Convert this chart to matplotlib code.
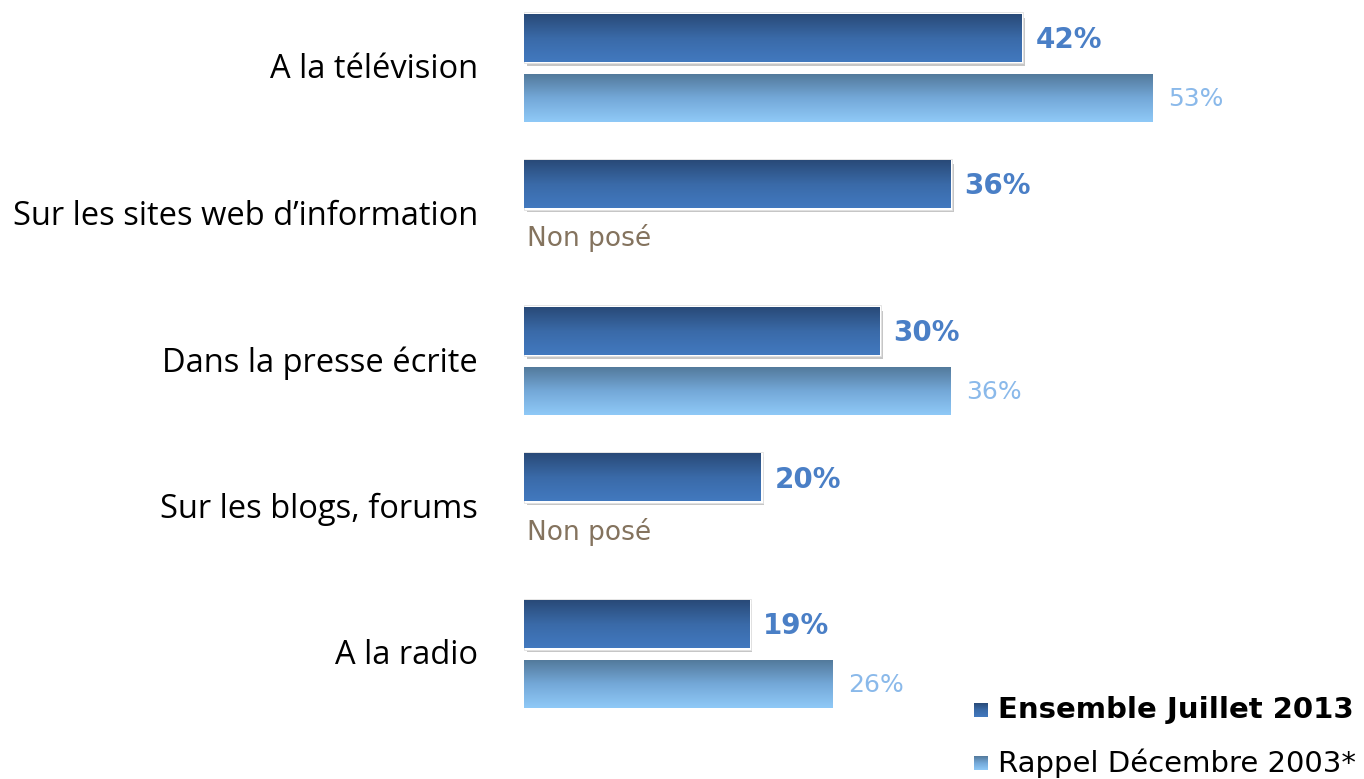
import numpy as np
import matplotlib.pyplot as plt
from matplotlib.patches import Rectangle
from matplotlib.colors import LinearSegmentedColormap

categories = ["A la télévision", "Sur les sites web d\u2019information",
              "Dans la presse écrite", "Sur les blogs, forums", "A la radio"]
ensemble_2013 = [42, 36, 30, 20, 19]
rappel_2003 = [53, None, 36, None, 26]
series_names = ["Ensemble Juillet 2013", "Rappel Décembre 2003*"]
missing_label = "Non posé"

W, H = 1364, 779
fig = plt.figure(figsize=(W / 100, H / 100), dpi=100)
ax = fig.add_axes([524 / W, 0, (W - 524) / W, 1])
px_per_unit = 11.85
spacing = 146.5
ax.axis("off")

off = 30 / spacing
bh = 48 / spacing
dark_cmap = LinearSegmentedColormap.from_list("d", ["#294a78", "#3a6aa8", "#4279bf"])
light_cmap = LinearSegmentedColormap.from_list("l", ["#537a9c", "#74a8d8", "#8fc9f7"])
grad = np.linspace(0, 1, 100).reshape(-1, 1)

xu = 1 / px_per_unit  # one pixel in x data units
yu = 1 / spacing

for i, (v1, v2) in enumerate(zip(ensemble_2013, rappel_2003)):
    # dark bar
    y0 = i - off - bh / 2
    ax.add_patch(Rectangle((3 * xu, y0 + 4 * yu), v1, bh, facecolor="#b8b8b8",
                           edgecolor="none", zorder=1, alpha=0.8))
    ax.add_patch(Rectangle((0, y0 - 1.5 * yu), v1 + 1.5 * xu, bh + 3 * yu,
                           facecolor="white", edgecolor="#e0e0e0", lw=0.6, zorder=2))
    ax.imshow(grad, cmap=dark_cmap, aspect="auto", extent=(0, v1, y0 + bh, y0),
              zorder=3, interpolation="bilinear")
    ax.text(v1 + 14 * xu, i - off + 2 * yu, f"{v1}%", ha="left", va="center",
            fontsize=20, fontweight="bold", color="#4a7fc6", family="DejaVu Sans")
    # light bar
    y1 = i + off - bh / 2
    if v2 is not None:
        ax.imshow(grad, cmap=light_cmap, aspect="auto", extent=(0, v2, y1 + bh, y1),
                  zorder=3, interpolation="bilinear")
        ax.text(v2 + 16 * xu, i + off + 1 * yu, f"{v2}%", ha="left", va="center",
                fontsize=18, color="#8ab9ea", family="DejaVu Sans")
    else:
        ax.text(3 * xu, i + off - 6 * yu, missing_label, ha="left", va="center",
                fontsize=19, color="#84735e", family="DejaVu Sans")
    fig.text(478 / W, 1 - (70 + spacing * i) / H, categories[i], ha="right",
             va="center", fontsize=23.5, color="black", family="Open Sans")

ax.set_xlim(0, (W - 524) / px_per_unit)
ax.set_ylim((H - 68) / spacing, -68 / spacing)

# legend
leg_y = [710, 763]
for k, (name, cm) in enumerate(zip(series_names, [dark_cmap, light_cmap])):
    lax = fig.add_axes([974 / W, 1 - (leg_y[k] + 7) / H, 14 / W, 14 / H])
    lax.imshow(grad, cmap=cm, aspect="auto", interpolation="bilinear")
    lax.axis("off")
    fig.text(998 / W, 1 - leg_y[k] / H, name, ha="left", va="center",
             fontsize=21, color="black", family="DejaVu Sans",
             fontweight="bold" if k == 0 else "normal")

fig.savefig("out.png", dpi=100, facecolor="white")
